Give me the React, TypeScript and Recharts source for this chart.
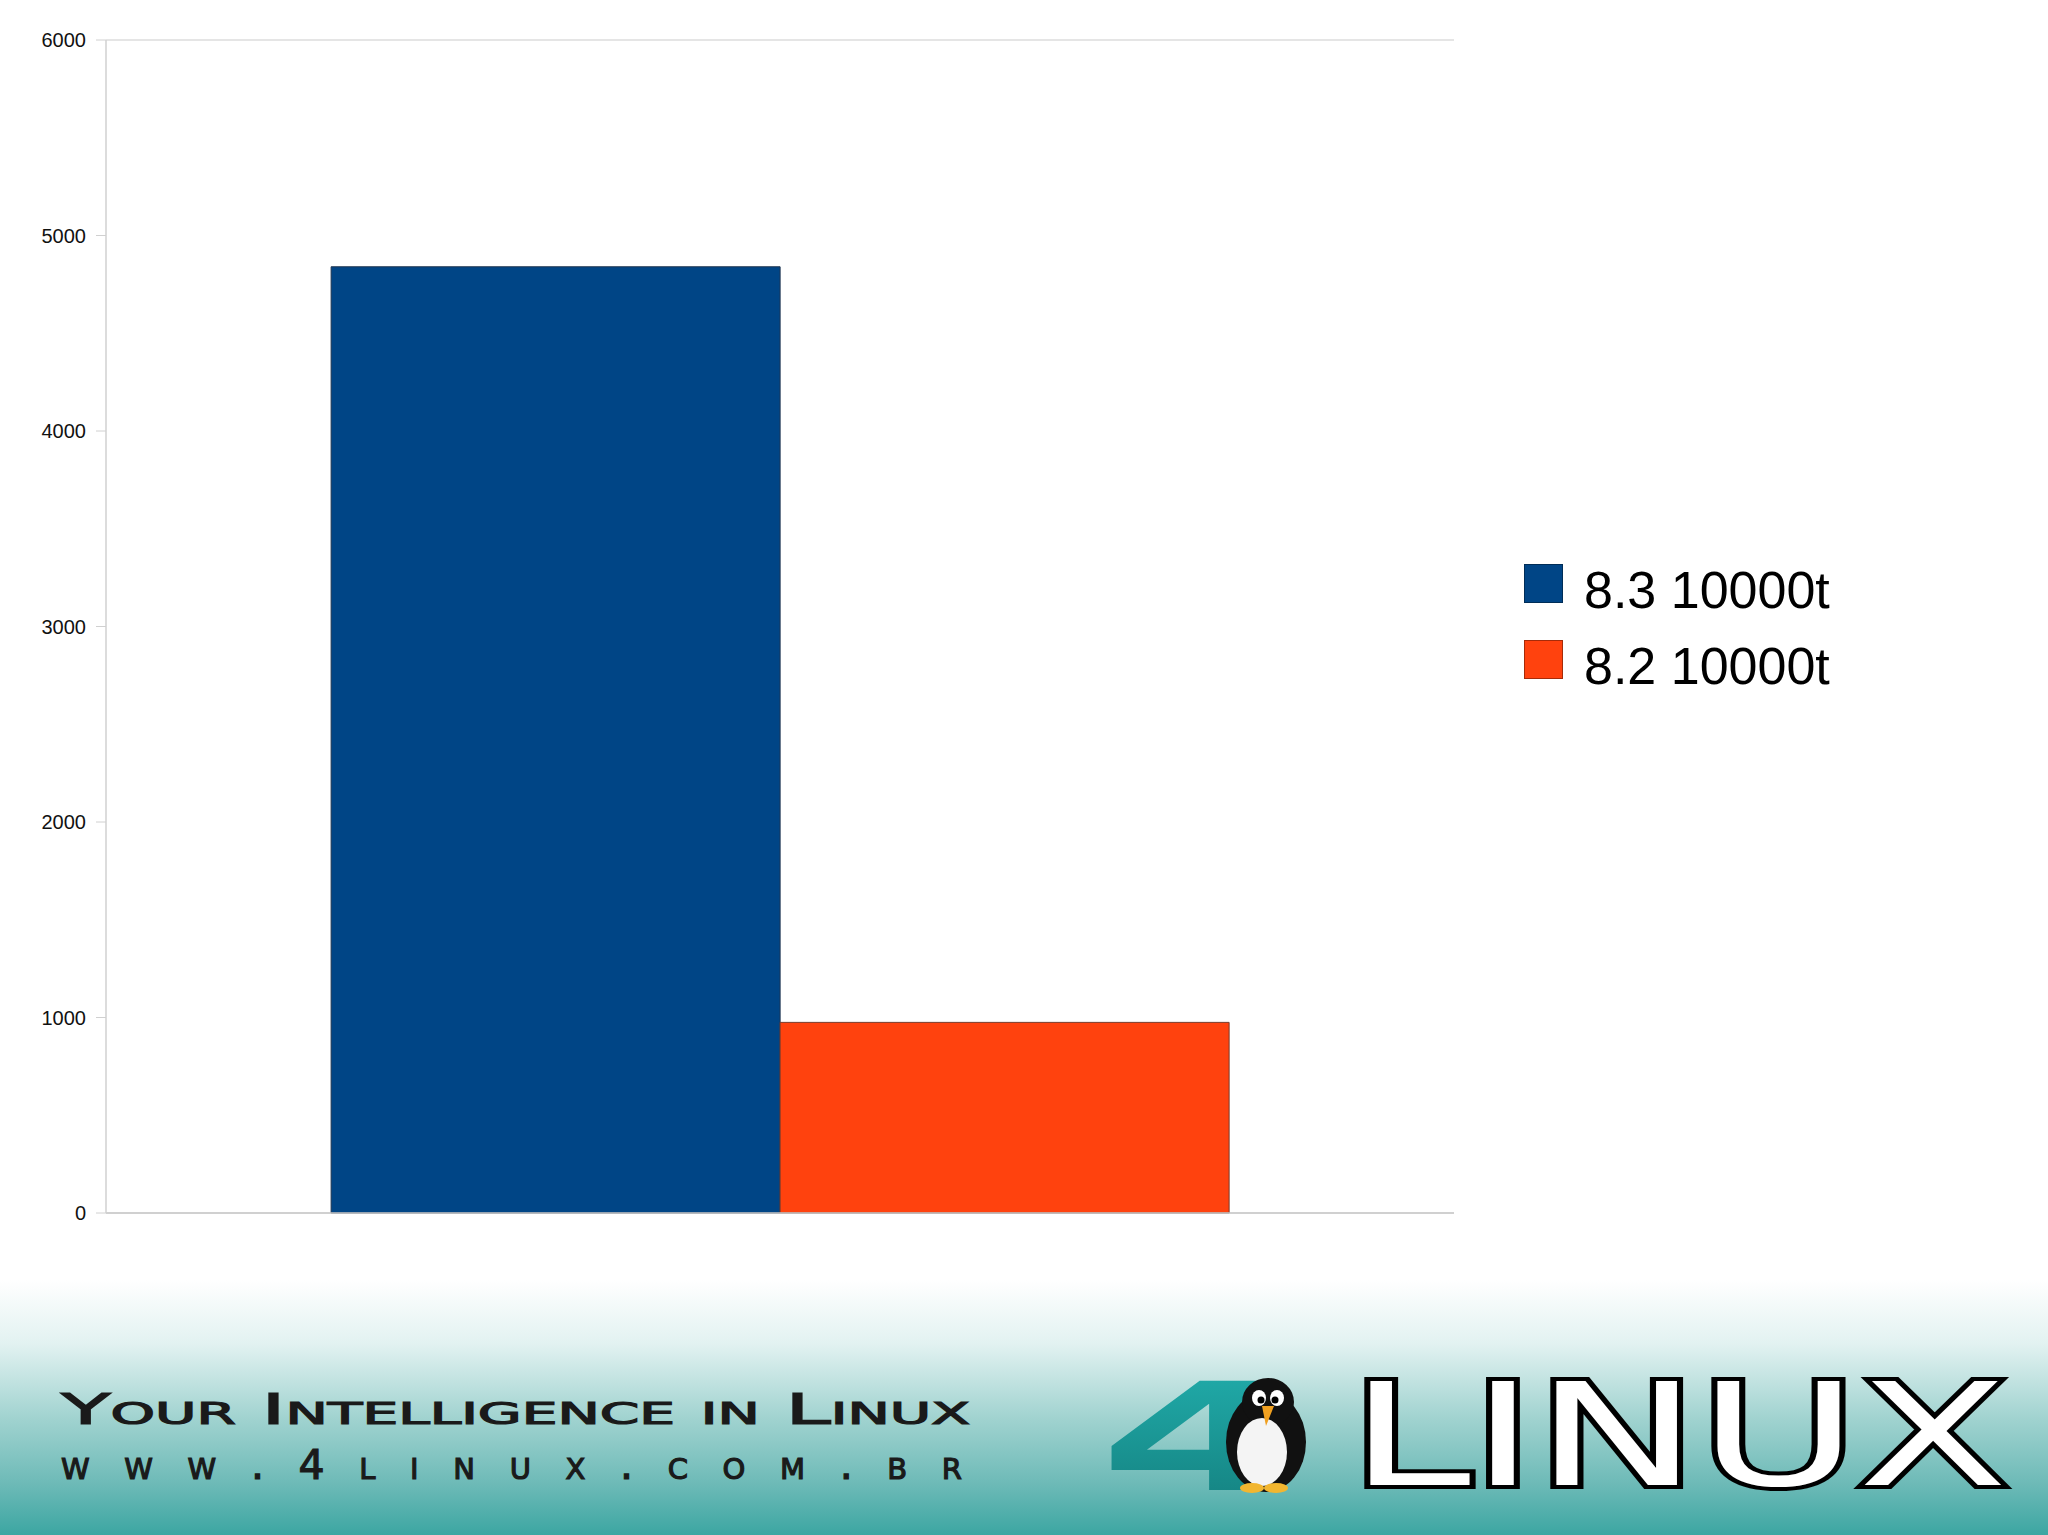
import React from "react";
import { BarChart, Bar, XAxis, YAxis, CartesianGrid, Legend } from "recharts";

const categories = [""];
const seriesNames = ["8.3 10000t", "8.2 10000t"];
const values83 = [4840];
const values82 = [975];
const yTicks = [0, 1000, 2000, 3000, 4000, 5000, 6000];
const seriesColors = ["#004586", "#ff420e"];

const data = categories.map((name, i) => ({
  name,
  s83: values83[i],
  s82: values82[i],
}));

function LegendBox(props: any) {
  const items = [...(props.payload || [])].sort(
    (a: any, b: any) => seriesNames.indexOf(a.value) - seriesNames.indexOf(b.value)
  );
  return (
    <div style={{ fontFamily: "'Liberation Sans', Arial, sans-serif" }}>
      {items.map((it: any) => (
        <div
          key={it.value}
          style={{ display: "flex", alignItems: "center", height: 76 }}
        >
          <div
            style={{
              width: 39,
              height: 39,
              background: it.color,
              border: "1px solid rgba(0,0,0,0.35)",
              boxSizing: "border-box",
              marginRight: 21,
            }}
          />
          <span
            style={{
              fontSize: 52,
              color: "#000",
              lineHeight: "1",
              paddingTop: 14,
            }}
          >
            {it.value}
          </span>
        </div>
      ))}
    </div>
  );
}

function Footer() {
  return (
    <svg
      width={2048}
      height={1535}
      style={{ position: "absolute", left: 0, top: 0 }}
    >
      <defs>
        <linearGradient id="band" x1="0" y1="0" x2="0" y2="1">
          <stop offset="0" stopColor="#ffffff" />
          <stop offset="0.25" stopColor="#e2f2f1" />
          <stop offset="0.55" stopColor="#9fd2cf" />
          <stop offset="0.8" stopColor="#6dbab7" />
          <stop offset="1" stopColor="#3ca6a2" />
        </linearGradient>
        <linearGradient id="four" x1="0" y1="0" x2="0" y2="1">
          <stop offset="0" stopColor="#22b0ae" />
          <stop offset="1" stopColor="#137d7c" />
        </linearGradient>
      </defs>
      <rect x={0} y={1280} width={2048} height={255} fill="url(#band)" />
      <text
        x={61}
        y={1424}
        fontFamily="'DejaVu Sans', sans-serif"
        fontSize={43}
        style={{ fontVariant: "small-caps" }}
        fill="#1a1a1a"
        stroke="#1a1a1a"
        strokeWidth={1.2}
        textLength={909}
        lengthAdjust="spacingAndGlyphs"
      >
        Your Intelligence in Linux
      </text>
      <text
        x={61}
        y={1479}
        fontFamily="'DejaVu Sans', sans-serif"
        fontSize={41}
        style={{ fontVariant: "small-caps" }}
        fill="#1a1a1a"
        stroke="#1a1a1a"
        strokeWidth={1.2}
        textLength={901}
        lengthAdjust="spacing"
      >
        www.4linux.com.br
      </text>
      <text
        x={1098}
        y={1490}
        fontFamily="'DejaVu Sans', sans-serif"
        fontWeight="bold"
        fontSize={150}
        fill="url(#four)"
        textLength={210}
        lengthAdjust="spacingAndGlyphs"
      >
        4
      </text>
      <g>
        <ellipse cx={1266} cy={1442} rx={40} ry={50} fill="#111" />
        <ellipse cx={1268} cy={1402} rx={26} ry={24} fill="#111" />
        <ellipse cx={1262} cy={1452} rx={25} ry={34} fill="#f4f4f4" />
        <ellipse cx={1259} cy={1398} rx={7} ry={8} fill="#fff" />
        <ellipse cx={1277} cy={1398} rx={7} ry={8} fill="#fff" />
        <circle cx={1261} cy={1400} r={3.5} fill="#000" />
        <circle cx={1275} cy={1400} r={3.5} fill="#000" />
        <polygon points="1262,1406 1274,1406 1266,1426" fill="#f0a020" />
        <ellipse cx={1252} cy={1488} rx={12} ry={5} fill="#f2b630" />
        <ellipse cx={1276} cy={1488} rx={12} ry={5} fill="#f2b630" />
      </g>
      <text
        x={1349}
        y={1485}
        fontFamily="'DejaVu Sans', sans-serif"
        fontSize={142}
        fill="#fff"
        stroke="#000"
        strokeWidth={8}
        style={{ paintOrder: "stroke" }}
        textLength={659}
        lengthAdjust="spacingAndGlyphs"
      >
        LINUX
      </text>
    </svg>
  );
}

export default function App() {
  return (
    <div
      style={{
        position: "absolute",
        left: 0,
        top: 0,
        width: 2048,
        height: 1535,
        background: "#fff",
        overflow: "hidden",
      }}
    >
      <Footer />
      <div style={{ position: "absolute", left: 0, top: 0 }}>
        <BarChart
          width={2048}
          height={1535}
          data={data}
          margin={{ top: 40, right: 594, bottom: 292, left: 0 }}
          barCategoryGap="16.7%"
          barGap={0}
          style={{ fontFamily: "'Liberation Sans', Arial, sans-serif" }}
        >
          <CartesianGrid
            vertical={false}
            stroke="#dcdcdc"
            strokeWidth={1.3}
          />
          <XAxis
            dataKey="name"
            height={30}
            tickSize={10}
            tickLine={{ stroke: "#d0d0d0" }}
            axisLine={{ stroke: "#c8c8c8", strokeWidth: 1.5 }}
            tick={false}
          />
          <YAxis
            yAxisId="left"
            width={106}
            domain={[0, 6000]}
            ticks={yTicks}
            interval={0}
            tickSize={10}
            tickMargin={10}
            tickLine={{ stroke: "#d0d0d0" }}
            axisLine={{ stroke: "#d0d0d0", strokeWidth: 1.5 }}
            tick={{ fill: "#111", fontSize: 20 }}
          />
          <YAxis
            yAxisId="right"
            orientation="right"
            width={0}
            domain={[0, 6000]}
            tick={false}
            tickLine={false}
            axisLine={{ stroke: "#dcdcdc", strokeWidth: 1.3 }}
          />
          <Legend
            layout="horizontal"
            align="center"
            verticalAlign="middle"
            content={<LegendBox />}
            wrapperStyle={{ left: 1524, top: 545, width: 480, height: 160 }}
          />
          <Bar
            yAxisId="left"
            dataKey="s83"
            name={seriesNames[0]}
            fill={seriesColors[0]}
            stroke="#1f3550"
            strokeWidth={1}
            isAnimationActive={false}
          />
          <Bar
            yAxisId="left"
            dataKey="s82"
            name={seriesNames[1]}
            fill={seriesColors[1]}
            stroke="#7a3a2a"
            strokeWidth={1}
            isAnimationActive={false}
          />
        </BarChart>
      </div>
    </div>
  );
}
